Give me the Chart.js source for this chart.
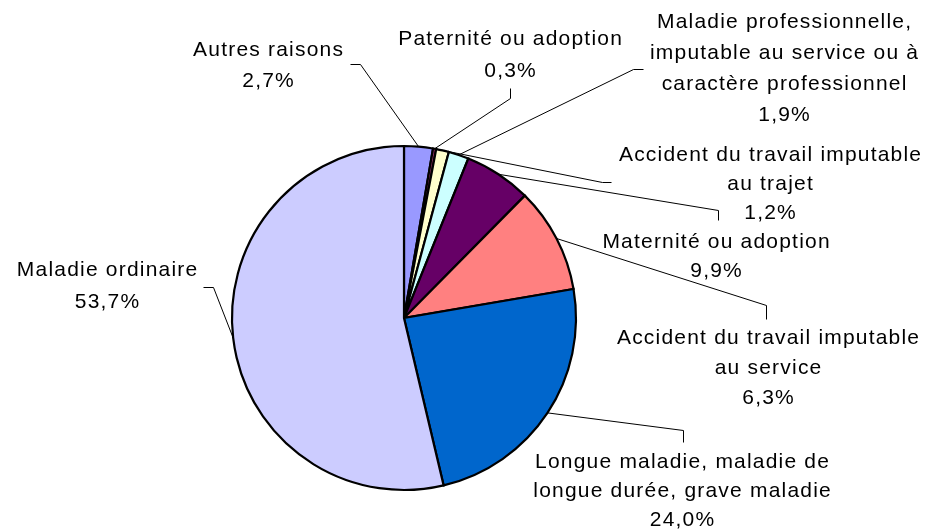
<!DOCTYPE html>
<html>
<head>
<meta charset="utf-8">
<script src="https://cdn.jsdelivr.net/npm/chart.js@4/dist/chart.umd.min.js"></script>
<style>
  html, body { margin: 0; padding: 0; background: #ffffff; }
  #wrap { width: 928px; height: 530px; position: relative; }
</style>
</head>
<body>
<div id="wrap"><canvas id="c" width="928" height="530"></canvas></div>
<script>
// ---- Data ----
const categories = [
  'Autres raisons',
  'Paternité ou adoption',
  'Accident du travail imputable au trajet',
  'Maladie professionnelle, imputable au service ou à caractère professionnel',
  'Accident du travail imputable au service',
  'Maternité ou adoption',
  'Longue maladie, maladie de longue durée, grave maladie',
  'Maladie ordinaire'
];
const shares = [2.7, 0.3, 1.2, 1.9, 6.3, 9.9, 24.0, 53.7];
const labelText = [
  ['Autres raisons'],
  ['Paternité ou adoption'],
  ['Accident du travail imputable', 'au trajet'],
  ['Maladie professionnelle,', 'imputable au service ou à', 'caractère professionnel'],
  ['Accident du travail imputable', 'au service'],
  ['Maternité ou adoption'],
  ['Longue maladie, maladie de', 'longue durée, grave maladie'],
  ['Maladie ordinaire']
];
const sliceColors = ['#9999FF', '#993366', '#FFFFCC', '#CCFFFF', '#660066', '#FF8080', '#0066CC', '#CCCCFF'];

// ---- Label layout (text placement and leader elbows) ----
const labelLayout = [
  { cx: 268, y: 50,  lh: 31, elbow: [[360, 64], [350, 64]] },
  { cx: 510, y: 39,  lh: 32, elbow: [[510, 98], [510, 88]] },
  { cx: 770, y: 155, lh: 29, elbow: [[602, 182], [611, 182]] },
  { cx: 784, y: 22,  lh: 31, elbow: [[633, 69], [643, 69]] },
  { cx: 768, y: 338, lh: 30, elbow: [[718, 210], [718, 220]] },
  { cx: 716, y: 242, lh: 29, elbow: [[766, 305], [766, 319]] },
  { cx: 682, y: 462, lh: 29, elbow: [[683, 430], [683, 442]] },
  { cx: 107, y: 270, lh: 32, elbow: [[213, 287], [203, 287]] }
];

function pctText(v) { return v.toFixed(1).replace('.', ',') + '%'; }

const labelsPlugin = {
  id: 'excelLabels',
  afterDatasetsDraw(chart) {
    const ctx = chart.ctx;
    const meta = chart.getDatasetMeta(0);
    ctx.save();
    // leader lines
    ctx.strokeStyle = '#000000';
    ctx.lineWidth = 1;
    meta.data.forEach((arc, i) => {
      const p = arc.getProps(['x', 'y', 'startAngle', 'endAngle', 'outerRadius'], true);
      const mid = (p.startAngle + p.endAngle) / 2;
      const ax = p.x + Math.cos(mid) * p.outerRadius;
      const ay = p.y + Math.sin(mid) * p.outerRadius;
      const L = labelLayout[i];
      ctx.beginPath();
      ctx.moveTo(ax, ay);
      L.elbow.forEach(pt => ctx.lineTo(pt[0] + 0.5, pt[1] + 0.5));
      ctx.stroke();
    });
    // texts
    ctx.fillStyle = '#000000';
    ctx.font = '21px "Liberation Sans", Arial, sans-serif';
    ctx.textAlign = 'center';
    ctx.textBaseline = 'middle';
    const ls = 1.2;
    try { ctx.letterSpacing = ls + 'px'; } catch (e) {}
    meta.data.forEach((arc, i) => {
      const L = labelLayout[i];
      const lines = labelText[i].concat([pctText(shares[i])]);
      lines.forEach((t, k) => {
        ctx.fillText(t, L.cx + ls / 2, L.y + k * L.lh);
      });
    });
    ctx.restore();
  }
};

new Chart(document.getElementById('c'), {
  type: 'pie',
  data: {
    labels: categories,
    datasets: [{
      data: shares,
      backgroundColor: sliceColors,
      borderColor: '#000000',
      borderWidth: 2.2,
      borderJoinStyle: 'miter'
    }]
  },
  options: {
    responsive: false,
    animation: false,
    events: [],
    radius: 172,
    layout: { padding: { left: 232, right: 352, top: 146, bottom: 40 } },
    plugins: {
      legend: { display: false },
      tooltip: { enabled: false },
      title: { display: false }
    }
  },
  plugins: [labelsPlugin]
});
</script>
</body>
</html>
